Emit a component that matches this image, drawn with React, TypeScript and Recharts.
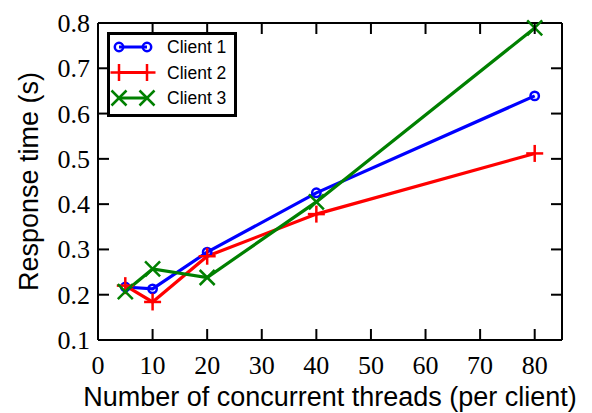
import { Label, Line, LineChart, ReferenceLine, XAxis, YAxis } from "recharts";

const threads = [5, 10, 20, 40, 80];
const client1 = [0.217, 0.213, 0.294, 0.425, 0.639];
const client2 = [0.22, 0.184, 0.285, 0.378, 0.512];
const client3 = [0.207, 0.257, 0.238, 0.405, 0.789];
const xTicks = [0, 10, 20, 30, 40, 50, 60, 70, 80];
const yTicks = [0.1, 0.2, 0.3, 0.4, 0.5, 0.6, 0.7, 0.8];

const data = threads.map((t, i) => ({ t, c1: client1[i], c2: client2[i], c3: client3[i] }));

const X_MIN = 0;
const X_MAX = 85;
const Y_MIN = 0.1;
const Y_MAX = 0.8;

// chart box
const W = 592;
const H = 413;
const M_TOP = 23;
const M_RIGHT = 30;
const Y_AXIS_W = 98;
const X_AXIS_H = 73;
const PLOT_L = Y_AXIS_W;
const PLOT_R = W - M_RIGHT;
const PLOT_T = M_TOP;
const PLOT_B = H - X_AXIS_H;
const TICK_LEN = 11;

const px = (v: number) => PLOT_L + ((v - X_MIN) / (X_MAX - X_MIN)) * (PLOT_R - PLOT_L);
const py = (v: number) => PLOT_B - ((v - Y_MIN) / (Y_MAX - Y_MIN)) * (PLOT_B - PLOT_T);

const BLUE = "#0000ff";
const RED = "#ff0000";
const GREEN = "#008000";
const serif = "'Liberation Serif', 'DejaVu Serif', serif";
const sans = "'Liberation Sans', Arial, sans-serif";

function CircleMark({ cx, cy, color }: { cx: number; cy: number; color: string }) {
  return <circle cx={cx} cy={cy} r={4.2} fill="none" stroke={color} strokeWidth={2.5} />;
}

function PlusMark({ cx, cy, color }: { cx: number; cy: number; color: string }) {
  const s = 8.5;
  return (
    <g stroke={color} strokeWidth={2.5}>
      <line x1={cx - s} y1={cy} x2={cx + s} y2={cy} />
      <line x1={cx} y1={cy - s} x2={cx} y2={cy + s} />
    </g>
  );
}

function CrossMark({ cx, cy, color }: { cx: number; cy: number; color: string }) {
  const s = 7.5;
  return (
    <g stroke={color} strokeWidth={2.5}>
      <line x1={cx - s} y1={cy - s} x2={cx + s} y2={cy + s} />
      <line x1={cx - s} y1={cy + s} x2={cx + s} y2={cy - s} />
    </g>
  );
}

const series = [
  { key: "c1", name: "Client 1", color: BLUE, Mark: CircleMark },
  { key: "c2", name: "Client 2", color: RED, Mark: PlusMark },
  { key: "c3", name: "Client 3", color: GREEN, Mark: CrossMark },
];

const tickText = { fontFamily: serif, fontSize: 26, fill: "#000" };

function BottomTick(props: any) {
  const { x, y, payload } = props;
  return (
    <text x={x} y={y + 34} textAnchor="middle" style={tickText}>
      {payload.value}
    </text>
  );
}

function LeftTick(props: any) {
  const { x, y, payload } = props;
  return (
    <text x={x - 8} y={y + 9} textAnchor="end" style={tickText}>
      {Number(payload.value).toFixed(1)}
    </text>
  );
}

// inward tick marks on all four sides of the frame
function FrameTicks() {
  return (
    <svg
      width={W}
      height={H}
      style={{ position: "absolute", left: 0, top: 0, pointerEvents: "none" }}
    >
      <g stroke="#000" strokeWidth={2}>
        {xTicks.map((t) => (
          <g key={`x${t}`}>
            <line x1={px(t)} y1={PLOT_B} x2={px(t)} y2={PLOT_B - TICK_LEN} />
            <line x1={px(t)} y1={PLOT_T} x2={px(t)} y2={PLOT_T + TICK_LEN} />
          </g>
        ))}
        {yTicks.map((t) => (
          <g key={`y${t}`}>
            <line x1={PLOT_L} y1={py(t)} x2={PLOT_L + TICK_LEN} y2={py(t)} />
            <line x1={PLOT_R} y1={py(t)} x2={PLOT_R - TICK_LEN} y2={py(t)} />
          </g>
        ))}
      </g>
    </svg>
  );
}

function LegendBox() {
  return (
    <svg width={130} height={85} style={{ position: "absolute", left: 107, top: 32 }}>
      <rect x={1.5} y={1.5} width={127} height={82} fill="#fff" stroke="#000" strokeWidth={3} />
      {series.map((s, i) => {
        const cy = 15 + i * 25.5;
        return (
          <g key={s.key}>
            <line x1={12} y1={cy} x2={40} y2={cy} stroke={s.color} strokeWidth={3} />
            <s.Mark cx={12} cy={cy} color={s.color} />
            <s.Mark cx={40} cy={cy} color={s.color} />
            <text x={60} y={cy + 6} style={{ fontFamily: sans, fontSize: 17.5, fill: "#000" }}>
              {s.name}
            </text>
          </g>
        );
      })}
    </svg>
  );
}

const frame = { stroke: "#000", strokeWidth: 2 };

export default function App() {
  return (
    <div style={{ position: "absolute", left: 0, top: 0, width: W, height: H, background: "#fff" }}>
      <LineChart width={W} height={H} data={data} margin={{ top: M_TOP, right: M_RIGHT, left: 0, bottom: 0 }}>
        <XAxis
          dataKey="t"
          type="number"
          domain={[X_MIN, X_MAX]}
          ticks={xTicks}
          height={X_AXIS_H}
          tickSize={0}
          tickMargin={0}
          tickLine={false}
          axisLine={frame}
          tick={<BottomTick />}
          interval={0}
        >
          <Label
            value="Number of concurrent threads (per client)"
            position="insideBottom"
            offset={7}
            style={{ fontFamily: sans, fontSize: 27, fill: "#000" }}
          />
        </XAxis>
        <YAxis
          type="number"
          domain={[Y_MIN, Y_MAX]}
          ticks={yTicks}
          width={Y_AXIS_W}
          tickSize={0}
          tickMargin={0}
          tickLine={false}
          axisLine={frame}
          tick={<LeftTick />}
          interval={0}
        >
          <Label
            value="Response time (s)"
            angle={-90}
            position="insideLeft"
            offset={28}
            style={{ fontFamily: sans, fontSize: 27, fill: "#000", textAnchor: "middle" }}
          />
        </YAxis>

        {/* top and right edges of the frame */}
        <ReferenceLine segment={[{ x: X_MIN, y: Y_MAX }, { x: X_MAX, y: Y_MAX }]} {...frame} />
        <ReferenceLine segment={[{ x: X_MAX, y: Y_MIN }, { x: X_MAX, y: Y_MAX }]} {...frame} />

        {series.map((s) => (
          <Line
            key={s.key}
            dataKey={s.key}
            name={s.name}
            stroke={s.color}
            strokeWidth={3.2}
            isAnimationActive={false}
            dot={(p: any) => <s.Mark key={`${s.key}-${p.index}`} cx={p.cx} cy={p.cy} color={s.color} />}
            activeDot={false}
          />
        ))}
      </LineChart>
      <FrameTicks />
      <LegendBox />
    </div>
  );
}
